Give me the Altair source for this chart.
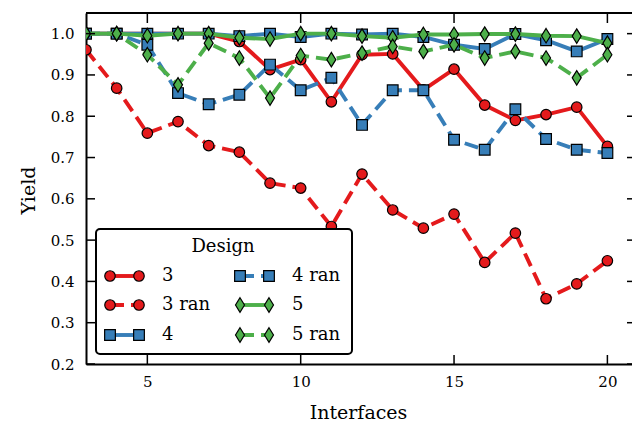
import altair as alt
import pandas as pd

# Interfaces on the x axis
interfaces = list(range(3, 21))

# Yield per design
yield_3 = [1.0, 1.0, 1.0, 1.0, 1.0, 0.981, 0.913, 0.937, 0.835, 0.949, 0.951, 0.864, 0.914, 0.827, 0.790, 0.804, 0.822, 0.727]
yield_3_ran = [0.961, 0.868, 0.759, 0.787, 0.729, 0.713, 0.638, 0.626, 0.533, 0.660, 0.573, 0.529, 0.563, 0.446, 0.517, 0.358, 0.394, 0.450]
yield_4 = [1.0, 1.0, 1.0, 1.0, 1.0, 0.994, 1.0, 0.992, 1.0, 0.998, 1.0, 0.992, 0.973, 0.963, 0.999, 0.984, 0.957, 0.987]
yield_4_ran = [1.0, 1.0, 0.973, 0.856, 0.829, 0.852, 0.925, 0.863, 0.893, 0.779, 0.863, 0.863, 0.743, 0.719, 0.817, 0.745, 0.719, 0.711]
yield_5 = [1.0, 1.0, 0.995, 1.0, 1.0, 0.990, 0.987, 1.0, 1.0, 0.994, 0.990, 0.998, 0.998, 0.999, 0.999, 0.995, 0.994, 0.977]
yield_5_ran = [1.0, 1.0, 0.949, 0.876, 0.977, 0.941, 0.844, 0.947, 0.937, 0.953, 0.969, 0.957, 0.973, 0.941, 0.957, 0.941, 0.893, 0.949]

x_ticks = [5, 10, 15, 20]
y_ticks = [0.2, 0.3, 0.4, 0.5, 0.6, 0.7, 0.8, 0.9, 1.0]

RED, BLUE, GREEN = "#e41a1c", "#377eb8", "#4daf4a"
DASH = [14, 7]
LINE_W = 3.9
THIN_DIAMOND = "M0,-1L0.62,0L0,1L-0.62,0Z"
FONT = "DejaVu Serif"

W, H = 546, 351
X_DOMAIN = [3, 3 + W / 30.67]
Y_DOMAIN = [0.2, 1.05]

series = [
    # name, values, color, dashed, shape, size
    ("3", yield_3, RED, False, "circle", 110),
    ("3 ran", yield_3_ran, RED, True, "circle", 110),
    ("4", yield_4, BLUE, False, "square", 115),
    ("4 ran", yield_4_ran, BLUE, True, "square", 115),
    ("5", yield_5, GREEN, False, THIN_DIAMOND, 210),
    ("5 ran", yield_5_ran, GREEN, True, THIN_DIAMOND, 210),
]

x_scale = alt.Scale(domain=X_DOMAIN, nice=False, zero=False)
y_scale = alt.Scale(domain=Y_DOMAIN, nice=False, zero=False)

x_enc = alt.X(
    "Interfaces:Q",
    scale=x_scale,
    axis=alt.Axis(
        values=x_ticks, format="d", ticks=False, grid=False,
        domainColor="black", domainWidth=2,
        labelFont=FONT, labelFontSize=15, labelColor="black", labelPadding=10,
        title="Interfaces", titleFont=FONT, titleFontSize=19, titleFontWeight="normal",
        titleColor="black", titleX=272, titleY=48, titleBaseline="middle", titleAlign="center",
    ),
)
y_enc = alt.Y(
    "Yield:Q",
    scale=y_scale,
    axis=alt.Axis(
        values=y_ticks, format=".1f", ticks=False, grid=False,
        domainColor="black", domainWidth=2,
        labelFont=FONT, labelFontSize=15, labelColor="black", labelPadding=12,
        title="Yield", titleFont=FONT, titleFontSize=19, titleFontWeight="normal",
        titleColor="black", titleX=-58, titleY=177, titleAngle=270,
        titleBaseline="middle", titleAlign="center",
    ),
)

layers = []
for name, vals, color, dashed, shape, size in series:
    df = pd.DataFrame({"Interfaces": interfaces, "Yield": vals, "Design": name})
    base = alt.Chart(df)
    line_kwargs = dict(color=color, strokeWidth=LINE_W, clip=True)
    if dashed:
        line_kwargs["strokeDash"] = DASH
    layers.append(base.mark_line(**line_kwargs).encode(x=x_enc, y=y_enc))
    layers.append(
        base.mark_point(shape=shape, size=size, filled=True, fill=color, stroke="black",
                        strokeWidth=1.2, opacity=1, clip=True).encode(x=x_enc, y=y_enc)
    )

# frame: top spine and inward ticks on all sides
frame_df = pd.DataFrame({"k": [0]})
layers.append(
    alt.Chart(frame_df).mark_rule(color="black", strokeWidth=2).encode(
        x=alt.value(0), x2=alt.value(W), y=alt.value(0)
    )
)
xt = alt.Chart(pd.DataFrame({"Interfaces": x_ticks}))
layers.append(xt.mark_rule(color="black", strokeWidth=1.5).encode(
    x=alt.X("Interfaces:Q", scale=x_scale), y=alt.value(H), y2=alt.value(H - 9)))
layers.append(xt.mark_rule(color="black", strokeWidth=1.5).encode(
    x=alt.X("Interfaces:Q", scale=x_scale), y=alt.value(0), y2=alt.value(10)))
yt = alt.Chart(pd.DataFrame({"Yield": y_ticks}))
layers.append(yt.mark_rule(color="black", strokeWidth=1.5).encode(
    y=alt.Y("Yield:Q", scale=y_scale), x=alt.value(0), x2=alt.value(9)))
layers.append(yt.mark_rule(color="black", strokeWidth=1.5).encode(
    y=alt.Y("Yield:Q", scale=y_scale), x=alt.value(W - 5), x2=alt.value(W)))

# legend box
LX0, LX1, LY0, LY1 = 10, 266, 216, 341
layers.append(
    alt.Chart(frame_df).mark_rect(fill="white", stroke="black", strokeWidth=2, cornerRadius=4).encode(
        x=alt.value(LX0), x2=alt.value(LX1), y=alt.value(LY0), y2=alt.value(LY1)
    )
)
layers.append(
    alt.Chart(frame_df).mark_text(text="Design", font=FONT, fontSize=18, color="black",
                                  align="center", baseline="middle").encode(
        x=alt.value(137), y=alt.value(234)
    )
)
rows_y = [263, 292, 322]
cols = [(24, 53, 76), (154, 183, 206)]
for i, (name, vals, color, dashed, shape, size) in enumerate(series):
    m1, m2, tx = cols[i // 3]
    ry = rows_y[i % 3]
    rule_kwargs = dict(color=color, strokeWidth=LINE_W)
    if dashed:
        rule_kwargs["strokeDash"] = DASH
    layers.append(alt.Chart(frame_df).mark_rule(**rule_kwargs).encode(
        x=alt.value(m1), x2=alt.value(m2), y=alt.value(ry)))
    for mx in (m1, m2):
        layers.append(alt.Chart(frame_df).mark_point(
            shape=shape, size=size, filled=True, fill=color, stroke="black",
            strokeWidth=1.2, opacity=1).encode(x=alt.value(mx), y=alt.value(ry)))
    layers.append(alt.Chart(frame_df).mark_text(
        text=name, font=FONT, fontSize=18, color="black", align="left", baseline="middle").encode(
        x=alt.value(tx), y=alt.value(ry)))

chart = (
    alt.layer(*layers)
    .properties(
        width=W, height=H,
        padding={"left": 86, "top": 13, "right": 0, "bottom": 63},
        autosize=alt.AutoSizeParams(type="none"),
        background="white",
    )
    .configure_view(stroke=None)
)

chart.save("out.html", embed_options={"renderer": "svg", "actions": False})
